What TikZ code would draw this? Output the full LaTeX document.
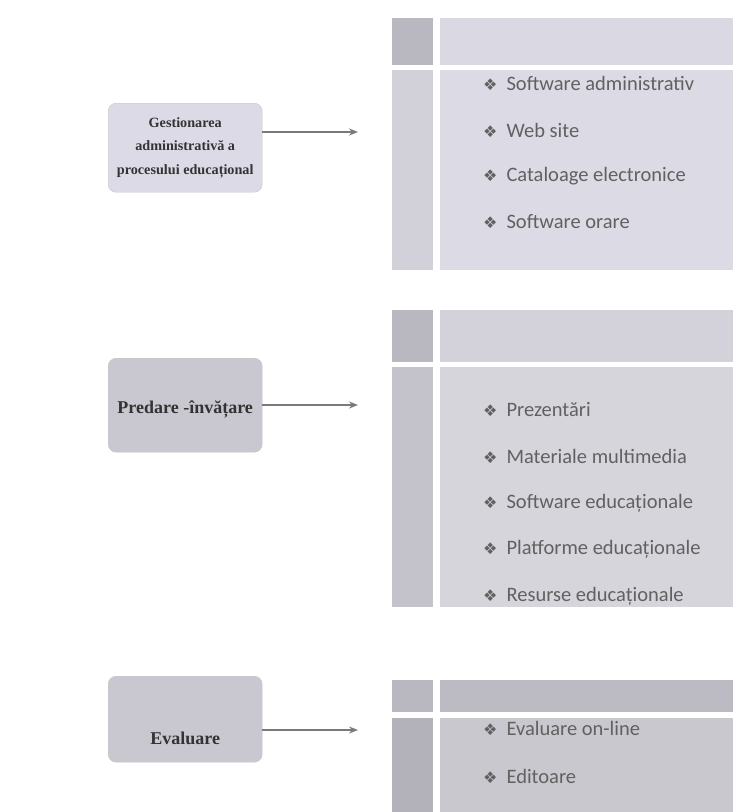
\documentclass[tikz,border=0pt]{standalone}
\usepackage{fontspec}
\setmainfont{Liberation Serif}
\newfontfamily\itemfont{Carlito}
\newfontfamily\bulletfont{DejaVu Sans}
\usetikzlibrary{arrows.meta,positioning}

\definecolor{boxlav}{HTML}{DCDAE6}
\definecolor{boxgray}{HTML}{C9C8D0}
\definecolor{cornergray}{HTML}{B9B8C1}
\definecolor{headlight}{HTML}{DAD9E3}
\definecolor{collight}{HTML}{D2D1DA}
\definecolor{bodylight}{HTML}{DCDBE5}
\definecolor{headmid}{HTML}{D3D2DA}
\definecolor{colmid}{HTML}{C4C3CB}
\definecolor{bodymid}{HTML}{D6D5DC}
\definecolor{headdark}{HTML}{BCBBC3}
\definecolor{coldark}{HTML}{B3B2BA}
\definecolor{bodydark}{HTML}{C9C8CE}

\newcommand{\bul}{{\bulletfont\fontsize{16}{16}\selectfont ❖}\hspace{9pt}}

\begin{document}
\begin{tikzpicture}[
  x=1pt, y=-1pt,
  catbox/.style={draw=gray!45, rounded corners=8pt, align=center, anchor=north west,
    minimum width=154pt, text=black!80},
  cattext/.style={font=\bfseries\fontsize{14.2}{23.5}\selectfont},
  bigtext/.style={font=\bfseries\fontsize{18}{22}\selectfont},
  cell/.style={anchor=north west, inner sep=0pt},
  item/.style={anchor=west, inner sep=0pt, font=\itemfont\fontsize{20.5}{24}\selectfont, text=black!62},
  arrow/.style={-{Stealth[length=9pt,width=7pt]}, line width=1.7pt, draw=black!52}
]
\useasboundingbox[fill=white] (0,0) rectangle (733,812);

% panel 1
\node[cell, fill=cornergray, minimum width=41pt, minimum height=47pt] (c1) at (392,18) {};
\node[cell, fill=headlight, minimum width=293pt, minimum height=47pt] (h1) at (440,18) {};
\node[cell, fill=collight, minimum width=41pt, minimum height=200pt] (l1) at (392,70) {};
\node[cell, fill=bodylight, minimum width=293pt, minimum height=200pt] (p1) at (440,70) {};

% panel 2
\node[cell, fill=cornergray, minimum width=41pt, minimum height=52pt] (c2) at (392,310) {};
\node[cell, fill=headmid, minimum width=293pt, minimum height=52pt] (h2) at (440,310) {};
\node[cell, fill=colmid, minimum width=41pt, minimum height=240pt] (l2) at (392,367) {};
\node[cell, fill=bodymid, minimum width=293pt, minimum height=240pt] (p2) at (440,367) {};

% panel 3
\node[cell, fill=cornergray, minimum width=41pt, minimum height=32pt] (c3) at (392,680) {};
\node[cell, fill=headdark, minimum width=293pt, minimum height=32pt] (h3) at (440,680) {};
\node[cell, fill=coldark, minimum width=41pt, minimum height=94pt] (l3) at (392,718) {};
\node[cell, fill=bodydark, minimum width=293pt, minimum height=94pt] (p3) at (440,718) {};

% items
\node[item] (a1) at (483,83) {\bul Software administrativ};
\node[item, below=47pt of a1.west, anchor=west] (a2) {\bul Web site};
\node[item, below=46pt of a2.west, anchor=west] (a3) {\bul Cataloage electronice};
\node[item, below=46pt of a3.west, anchor=west] (a4) {\bul Software orare};

\node[item] (b1) at (483,410) {\bul Prezentări};
\node[item, below=46pt of b1.west, anchor=west] (b2) {\bul Materiale multimedia};
\node[item, below=47pt of b2.west, anchor=west] (b3) {\bul Software educaționale};
\node[item, below=46pt of b3.west, anchor=west] (b4) {\bul Platforme educaționale};
\node[item, below=47pt of b4.west, anchor=west] (b5) {\bul Resurse educaționale};

\node[item] (e1) at (483,728) {\bul Evaluare on-line};
\node[item, below=48pt of e1.west, anchor=west] (e2) {\bul Editoare};

% categories
\node[catbox, cattext, fill=boxlav, minimum height=89pt] (gest) at (108,103)
  {Gestionarea\\administrativă a\\procesului educațional};
\node[catbox, bigtext, fill=boxgray, minimum height=94pt, text height=19pt, text depth=2pt] (pred) at (108,358)
  {Predare -învățare};
\node[catbox, bigtext, fill=boxgray, minimum height=86pt, text height=52pt, text depth=2pt] (eval) at (108,676)
  {Evaluare};

\coordinate (t1) at (358,132);
\coordinate (t2) at (358,405);
\coordinate (t3) at (358,730);

\draw[arrow] (gest.east |- t1) -- (t1);
\draw[arrow] (pred.east |- t2) -- (t2);
\draw[arrow] (eval.east |- t3) -- (t3);
\end{tikzpicture}
\end{document}
